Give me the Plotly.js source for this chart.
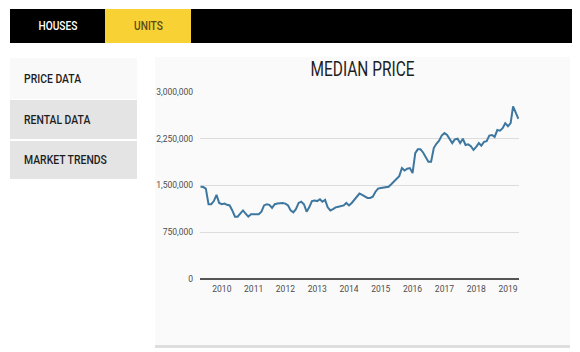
<!DOCTYPE html>
<html>
<head>
<meta charset="utf-8">
<script src="https://cdn.plot.ly/plotly-3.0.1.min.js"></script>
<style>
  html, body { margin: 0; padding: 0; background: #ffffff; width: 580px; height: 352px; overflow: hidden; }
  .cond { font-family: Roboto, "Liberation Sans", sans-serif; }
  #topbar { position: absolute; left: 10px; top: 9px; width: 562px; height: 34px; background: #000; }
  .tab { position: absolute; top: 0; height: 34px; line-height: 34px; text-align: center; font-size: 13px; font-weight: 500; }
  .tab span { display: inline-block; transform: scaleX(0.78); }
  #houses { left: 0; width: 95px; color: #fff; }
  #units { left: 95px; width: 86px; color: #5b4a12; background: #f8d235; }
  .menu { position: absolute; left: 10px; width: 127px; font-size: 13px; font-weight: 500; color: #1e1e1e; padding-left: 14px; box-sizing: border-box; }
  .menu span { display: inline-block; transform: scaleX(0.8); transform-origin: left center; }
  #m1 { top: 58px; height: 41px; line-height: 41px; background: #f9f9f9; }
  #m2 { top: 100px; height: 39px; line-height: 39px; background: #e4e4e4; }
  #m3 { top: 141px; height: 38px; line-height: 38px; background: #e4e4e4; }
  #panel { position: absolute; left: 155px; top: 57px; width: 415px; height: 288px; background: #fafafa; border-bottom: 3px solid #dedede; }
  #chart { position: absolute; left: 155px; top: 57px; width: 415px; height: 290px; }
</style>
</head>
<body>
<div id="topbar" class="cond">
  <div id="houses" class="tab"><span>HOUSES</span></div>
  <div id="units" class="tab"><span>UNITS</span></div>
</div>
<div id="m1" class="menu cond"><span>PRICE DATA</span></div>
<div id="m2" class="menu cond"><span>RENTAL DATA</span></div>
<div id="m3" class="menu cond"><span>MARKET TRENDS</span></div>
<div id="panel"></div>
<div id="chart"></div>
<script>
// Monthly median price, starting May 2009
const startYear = 2009;
const startMonth = 5;
const medianPrice = [
  1480000, 1475000, 1450000, 1200000, 1200000, 1250000, 1350000, 1220000, 1200000, 1210000,
  1190000, 1180000, 1100000, 1000000, 1000000, 1050000, 1100000, 1050000, 1000000, 1040000,
  1040000, 1030000, 1040000, 1080000, 1180000, 1200000, 1190000, 1140000, 1200000, 1210000,
  1220000, 1220000, 1210000, 1180000, 1100000, 1070000, 1120000, 1220000, 1240000, 1200000,
  1080000, 1150000, 1250000, 1260000, 1250000, 1280000, 1240000, 1270000, 1150000, 1100000,
  1120000, 1150000, 1160000, 1170000, 1180000, 1220000, 1180000, 1220000, 1270000, 1330000,
  1370000, 1350000, 1320000, 1300000, 1300000, 1320000, 1400000, 1450000, 1460000, 1470000,
  1480000, 1480000, 1520000, 1560000, 1610000, 1650000, 1780000, 1740000, 1770000, 1780000,
  1700000, 2020000, 2080000, 2080000, 2030000, 1950000, 1880000, 1880000, 2100000, 2170000,
  2220000, 2300000, 2340000, 2310000, 2240000, 2180000, 2240000, 2250000, 2180000, 2250000,
  2150000, 2160000, 2130000, 2070000, 2120000, 2180000, 2140000, 2200000, 2210000, 2300000,
  2310000, 2280000, 2390000, 2380000, 2420000, 2500000, 2450000, 2500000, 2770000, 2660000,
  2570000
];
const yTickValues = [0, 750000, 1500000, 2250000, 3000000];
const yTickLabels = ['0', '750,000', '1,500,000', '2,250,000', '3,000,000'];
const xTickValues = ['2010-01-01','2011-01-01','2012-01-01','2013-01-01','2014-01-01','2015-01-01','2016-01-01','2017-01-01','2018-01-01','2019-01-01'];
const xTickLabels = ['2010','2011','2012','2013','2014','2015','2016','2017','2018','2019'];

const dates = medianPrice.map((_, i) => {
  const total = (startMonth - 1) + i;
  const y = startYear + Math.floor(total / 12);
  const m = (total % 12) + 1;
  return y + '-' + String(m).padStart(2, '0') + '-01';
});

const trace = {
  x: dates, y: medianPrice, type: 'scatter', mode: 'lines',
  line: { color: '#3d77a0', width: 2 }, hoverinfo: 'skip'
};

const layout = {
  width: 415, height: 290,
  margin: { l: 45, r: 51, t: 35, b: 68 },
  paper_bgcolor: 'rgba(0,0,0,0)', plot_bgcolor: 'rgba(0,0,0,0)',
  showlegend: false,
  title: {
    text: 'MEDIAN PRICE', x: 0.5, xanchor: 'center', y: 0.96, yanchor: 'middle',
    font: { family: 'Roboto, sans-serif', size: 20, color: '#1f1f1f' }
  },
  xaxis: {
    type: 'date', range: ['2009-04-25', '2019-05-08'],
    tickvals: xTickValues, ticktext: xTickLabels,
    showgrid: false, zeroline: false, showline: false, ticks: '',
    tickfont: { family: 'Roboto, sans-serif', size: 8.5, color: '#4d4d4d' },
    ticklabelstandoff: 3
  },
  yaxis: {
    range: [0, 3000000], tickvals: yTickValues, ticktext: yTickLabels,
    showgrid: true, gridcolor: '#dcdcdc', gridwidth: 1,
    zeroline: true, zerolinecolor: '#555', zerolinewidth: 1.5,
    ticks: '', showline: false,
    tickfont: { family: 'Roboto, sans-serif', size: 8.5, color: '#4d4d4d' },
    ticklabelstandoff: 6
  }
};

Plotly.newPlot('chart', [trace], layout, { displayModeBar: false, staticPlot: true }).then(gd => {
  const t = gd.querySelector('.gtitle');
  if (t) {
    t.setAttribute('textLength', '104');
    t.setAttribute('lengthAdjust', 'spacingAndGlyphs');
  }
});
</script>
</body>
</html>
